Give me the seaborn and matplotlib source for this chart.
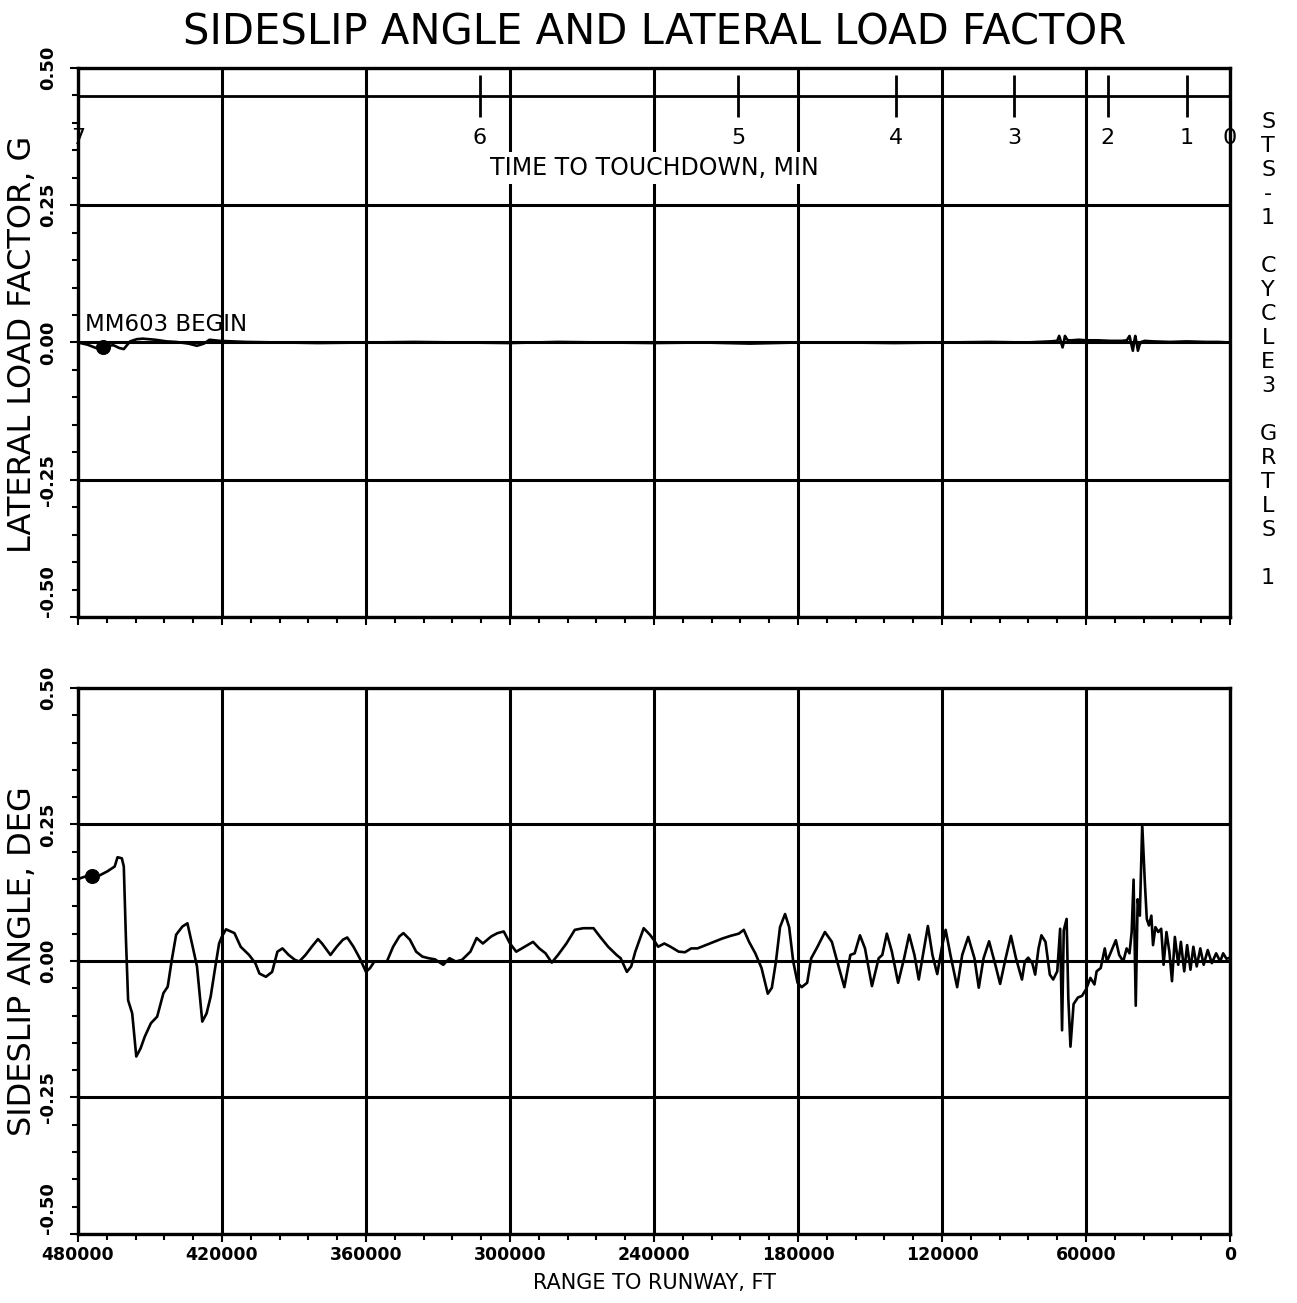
import numpy as np
import pandas as pd
import matplotlib
matplotlib.use("Agg")
import matplotlib.pyplot as plt
import seaborn as sns
from matplotlib.ticker import MultipleLocator

# ---------------- data ----------------
title = "SIDESLIP ANGLE AND LATERAL LOAD FACTOR"
range_ticks = [480000, 420000, 360000, 300000, 240000, 180000, 120000, 60000, 0]
range_tick_labels = [str(v) for v in range_ticks]
time_tick_range = [480000, 312500, 205000, 139000, 90000, 51000, 18000, 0]
time_tick_labels = ["7", "6", "5", "4", "3", "2", "1", "0"]
y_ticks = [0.50, 0.25, 0.00, -0.25, -0.50]
y_tick_labels = ["0.50", "0.25", "0.00", "-0.25", "-0.50"]

# lateral load factor, G
ll_range = [480000, 476000, 472500, 470400, 467500, 465200, 462800, 460900, 458300, 455500,
            453000, 447800, 443000, 439100, 434000, 430400, 427500, 425200, 421000, 410000,
            395000, 380000, 360000, 340000, 320000, 300000, 280000, 260000, 240000, 220000,
            200000, 180000, 160000, 140000, 120000, 100000, 85000, 75000, 72000, 71200,
            70500, 69800, 69200, 68800, 68000, 67400, 66000, 63000, 60000, 55000,
            50000, 45000, 43000, 41900, 41200, 40500, 40000, 39500, 38900, 38400,
            37700, 37000, 35600, 32000, 25000, 18000, 10000, 5000, 0]
ll_value = [0.000, -0.004, -0.010, -0.012, -0.006, -0.005, -0.010, -0.012, 0.002, 0.006,
            0.007, 0.005, 0.002, 0.001, -0.002, -0.006, -0.002, 0.005, 0.003, 0.001,
            0.000, -0.001, 0.000, 0.001, 0.000, -0.001, 0.001, 0.000, -0.001, 0.000,
            -0.002, 0.000, 0.000, -0.001, 0.000, 0.001, 0.000, 0.002, 0.003, 0.012,
            0.002, -0.009, 0.002, 0.012, 0.006, 0.004, 0.004, 0.005, 0.004, 0.004,
            0.003, 0.003, 0.004, 0.012, -0.002, -0.015, 0.000, 0.012, -0.002, -0.015,
            -0.004, 0.001, 0.003, 0.002, 0.001, 0.002, 0.001, 0.001, 0.000]

# sideslip angle, deg
ss_range = [480000, 474800, 471300, 467800, 464700, 463500, 461700, 460900, 460000, 459100,
            457400, 455700, 453900, 452200, 449600, 447000, 444400, 442600, 440900, 439100,
            436500, 434400, 432200, 430400, 428200, 426400, 424700, 423000, 421200, 420000,
            418300, 414800, 412200, 408700, 406100, 404400, 401700, 399100, 396900, 394800,
            392200, 389600, 387800, 385200, 382600, 380000, 378300, 374800, 372200, 369600,
            367800, 365200, 362600, 360000, 358300, 356500, 351300, 348700, 346100, 344400,
            341700, 339100, 336500, 333900, 331300, 327800, 325200, 322600, 320000, 316500,
            313900, 311300, 307800, 305200, 302600, 300000, 297400, 293900, 290400, 287800,
            285200, 282600, 280000, 276500, 273000, 269500, 265200, 262600, 259100, 255600,
            253900, 251300, 249500, 247800, 246000, 244300, 241700, 240000, 238300, 235700,
            233100, 229700, 227100, 224500, 221900, 218500, 215000, 211600, 208100, 204700,
            202600, 200400, 197800, 195200, 192600, 190900, 189200, 187500, 185400, 183700,
            182000, 180200, 178500, 176200, 174500, 171900, 168800, 165900, 163300, 160700,
            158200, 156400, 154200, 152100, 149200, 146400, 144900, 143000, 140900, 138300,
            135800, 133700, 131500, 129700, 127700, 125900, 124000, 122000, 119900, 118500,
            116500, 113700, 111600, 109100, 106500, 104700, 102700, 100400, 97800, 95800,
            93500, 91300, 89200, 86700, 85500, 84100, 82400, 81200, 79800, 78600,
            76900, 75100, 73700, 72000, 70800, 70000, 69300, 68100, 67400, 66500,
            65200, 63400, 61700, 60000, 58200, 56500, 55600, 53900, 52200, 51300,
            49600, 47600, 46200, 44500, 43100, 41900, 41000, 40200, 39300, 38500,
            37600, 36600, 35500, 34700, 33800, 32800, 32100, 31100, 29900, 28700,
            27700, 26500, 25300, 24200, 23000, 21600, 20500, 19100, 17900, 16500,
            15300, 13900, 12400, 11000, 9300, 7600, 5800, 4100, 2900, 1500, 0]
ss_value = [0.150, 0.158, 0.156, 0.164, 0.173, 0.190, 0.188, 0.173, 0.039, -0.072,
            -0.096, -0.175, -0.160, -0.139, -0.114, -0.102, -0.059, -0.047, 0.002, 0.048,
            0.063, 0.069, 0.026, -0.010, -0.111, -0.096, -0.065, -0.017, 0.032, 0.045,
            0.058, 0.051, 0.026, 0.011, -0.004, -0.023, -0.029, -0.020, 0.017, 0.023,
            0.011, 0.002, -0.001, 0.011, 0.026, 0.040, 0.032, 0.011, 0.026, 0.039,
            0.043, 0.026, 0.005, -0.020, -0.013, -0.001, -0.001, 0.026, 0.045, 0.051,
            0.039, 0.017, 0.008, 0.005, 0.003, -0.007, 0.005, -0.001, 0.002, 0.017,
            0.042, 0.032, 0.045, 0.051, 0.054, 0.032, 0.017, 0.026, 0.035, 0.023,
            0.014, -0.003, 0.011, 0.032, 0.057, 0.060, 0.060, 0.045, 0.026, 0.011,
            0.005, -0.020, -0.010, 0.017, 0.039, 0.060, 0.048, 0.038, 0.026, 0.032,
            0.026, 0.017, 0.016, 0.023, 0.023, 0.029, 0.035, 0.041, 0.046, 0.050,
            0.057, 0.035, 0.014, -0.013, -0.060, -0.049, -0.001, 0.062, 0.086, 0.062,
            -0.001, -0.040, -0.048, -0.040, 0.005, 0.026, 0.053, 0.035, -0.007, -0.048,
            0.011, 0.014, 0.047, 0.023, -0.046, 0.005, 0.011, 0.050, 0.017, -0.040,
            0.005, 0.048, 0.011, -0.034, 0.017, 0.064, 0.011, -0.024, 0.029, 0.057,
            0.011, -0.048, 0.011, 0.044, 0.005, -0.049, 0.005, 0.036, -0.007, -0.042,
            0.005, 0.046, 0.005, -0.034, -0.001, 0.006, -0.004, -0.025, 0.023, 0.047,
            0.035, -0.025, -0.034, -0.019, 0.059, -0.127, 0.056, 0.077, -0.067, -0.157,
            -0.079, -0.067, -0.064, -0.052, -0.031, -0.043, -0.019, -0.013, 0.023, -0.001,
            0.017, 0.038, 0.011, -0.001, 0.023, 0.014, 0.053, 0.149, -0.082, 0.113,
            0.083, 0.250, 0.143, 0.077, 0.065, 0.083, 0.029, 0.062, 0.053, 0.059,
            -0.007, 0.053, 0.017, -0.037, 0.044, -0.007, 0.035, -0.019, 0.029, -0.016,
            0.026, -0.010, 0.023, -0.007, 0.020, -0.004, 0.014, -0.001, 0.014, 0.004, 0.006]

begin_range_top = [469600]
begin_value_top = [-0.009]
begin_range_bottom = [474000]
begin_value_bottom = [0.156]
annotation_text = "MM603 BEGIN"
side_text = ["S", "T", "S", "-", "1", "", "C", "Y", "C", "L", "E", "3", "", "G", "R", "T", "L", "S", "", "1"]

# ---------------- plotting ----------------
sns.set_theme(style="white")
plt.rcParams["font.family"] = ["DejaVu Sans"]
plt.rcParams["axes.edgecolor"] = "black"
plt.rcParams["text.color"] = "black"
plt.rcParams["axes.labelcolor"] = "black"
plt.rcParams["xtick.color"] = "black"
plt.rcParams["ytick.color"] = "black"

fig = plt.figure(figsize=(12.97, 13.03), dpi=100)
ax1 = fig.add_axes([0.0601, 0.5265, 0.8883, 0.4213])
ax2 = fig.add_axes([0.0601, 0.0530, 0.8883, 0.4190])

df_ll = pd.DataFrame({"range": ll_range, "value": ll_value})
df_ss = pd.DataFrame({"range": ss_range, "value": ss_value})

sns.lineplot(data=df_ll, x="range", y="value", ax=ax1, color="black", lw=1.9,
             estimator=None, legend=False)
sns.lineplot(data=df_ss, x="range", y="value", ax=ax2, color="black", lw=1.9,
             estimator=None, legend=False)
sns.scatterplot(x=begin_range_top, y=begin_value_top, ax=ax1, color="black", s=100,
                edgecolor="black", zorder=5, legend=False)
sns.scatterplot(x=begin_range_bottom, y=begin_value_bottom, ax=ax2, color="black", s=100,
                edgecolor="black", zorder=5, legend=False)


def style(ax):
    ax.set_xlim(480000, 0)
    ax.set_ylim(-0.5, 0.5)
    ax.set_xticks(range_ticks)
    ax.set_xticklabels(range_tick_labels, fontsize=12.5, fontweight="bold")
    ax.set_yticks(y_ticks)
    ax.set_yticklabels(y_tick_labels, rotation=90, va="center", fontsize=13, fontweight="bold")
    ax.get_yticklabels()[-1].set_va("bottom")
    ax.xaxis.set_minor_locator(MultipleLocator(12000))
    ax.yaxis.set_minor_locator(MultipleLocator(0.05))
    ax.set_axisbelow(True)
    ax.grid(True, which="major", color="black", lw=2.2)
    ax.grid(False, which="minor")
    for sp in ax.spines.values():
        sp.set_visible(True)
        sp.set_color("black")
        sp.set_linewidth(2.4)
    ax.tick_params(which="both", direction="out", color="black", width=1.5,
                   bottom=True, left=True)
    ax.tick_params(which="major", length=6, pad=3)
    ax.tick_params(which="minor", length=4)
    ax.tick_params(axis="y", which="major", pad=9)


style(ax1)
style(ax2)
ax1.tick_params(labelbottom=False)
ax1.set_xlabel("")
ax1.set_ylabel("LATERAL LOAD FACTOR, G", fontsize=23)
ax1.yaxis.set_label_coords(-0.035, 0.497)
ax2.set_ylabel("SIDESLIP ANGLE, DEG", fontsize=23)
ax2.yaxis.set_label_coords(-0.035, 0.5)
ax2.set_xlabel("RANGE TO RUNWAY, FT", fontsize=15)
ax2.xaxis.set_label_coords(0.5, -0.072)

# time-to-touchdown axis inside upper panel
sec = ax1.secondary_xaxis(0.949)
sec.set_alignment("bottom")
sec.set_xticks(time_tick_range, labels=time_tick_labels)
sec.spines["bottom"].set_linewidth(2.0)
sec.spines["bottom"].set_color("black")
sec.tick_params(axis="x", direction="inout", length=30, width=2.0, pad=8,
                labelsize=16, color="black")
for lab in sec.get_xticklabels():
    lab.set_bbox(dict(facecolor="white", edgecolor="none", pad=1))
ax1.text(0.5, 0.818, "TIME TO TOUCHDOWN, MIN", transform=ax1.transAxes, ha="center",
         va="center", fontsize=17, bbox=dict(facecolor="white", edgecolor="none", pad=3),
         zorder=6)

ax1.text(477000, 0.012, annotation_text, fontsize=16.5, ha="left", va="bottom")

fig.text(0.505, 0.9754, title, ha="center", va="center", fontsize=30)
fig.text(0.9777, 0.7314, "\n".join(side_text), ha="center", va="center", fontsize=16,
         linespacing=1.25)

fig.savefig("out.png", dpi=100)
